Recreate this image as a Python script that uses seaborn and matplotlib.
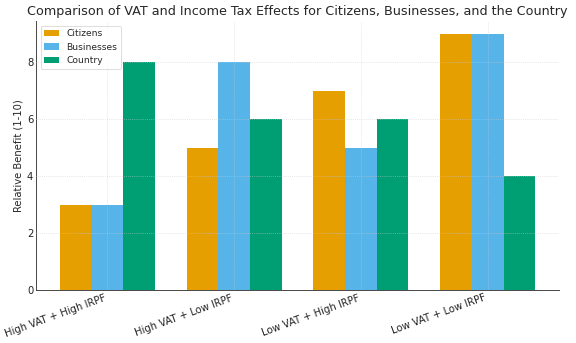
import matplotlib
matplotlib.use("Agg")
import matplotlib.pyplot as plt
import seaborn as sns
import pandas as pd

scenarios = ["High VAT + High IRPF", "High VAT + Low IRPF", "Low VAT + High IRPF", "Low VAT + Low IRPF"]
citizens = [3, 5, 7, 9]
businesses = [3, 8, 5, 9]
country = [8, 6, 6, 4]
groups = ["Citizens", "Businesses", "Country"]
colors = ["#E69F00", "#56B4E9", "#009E73"]

df = pd.DataFrame({
    "Scenario": scenarios * 3,
    "Group": [g for g in groups for _ in scenarios],
    "Benefit": citizens + businesses + country,
})

sns.set_theme(style="whitegrid")
plt.rcParams['font.family'] = ['DejaVu Sans']

fig = plt.figure(figsize=(10, 343 / 57.6), dpi=57.6)
ax = fig.add_axes([0.0625, 0.1545, 0.908, 0.7845])
sns.barplot(data=df, x="Scenario", y="Benefit", hue="Group", palette=colors,
            width=0.75, saturation=1, ax=ax, linewidth=0)
ax.set_axisbelow(False)
ax.grid(True, linestyle=":", color="#cccccc", linewidth=0.9, alpha=0.8)
for s in ["top", "right"]:
    ax.spines[s].set_visible(False)
for s in ["left", "bottom"]:
    ax.spines[s].set_visible(True)
    ax.spines[s].set_color("#444444")
    ax.spines[s].set_linewidth(1.2)
ax.set_xlim(-0.5625, 3.5625)
ax.set_ylim(0, 9.45)
ax.set_yticks([0, 2, 4, 6, 8])
ax.tick_params(axis="both", labelsize=12.5, length=0, colors="#222222")
ax.set_xlabel("")
ax.set_ylabel("Relative Benefit (1-10)", fontsize=12.5)
ax.set_title("Comparison of VAT and Income Tax Effects for Citizens, Businesses, and the Country",
             fontsize=16, pad=8)
plt.setp(ax.get_xticklabels(), rotation=20, ha="right", rotation_mode="default")
leg = ax.legend(loc="upper left", fontsize=11.5, title=None, frameon=True, handlelength=1.6)
fig.savefig("out.png", dpi=57.6)
